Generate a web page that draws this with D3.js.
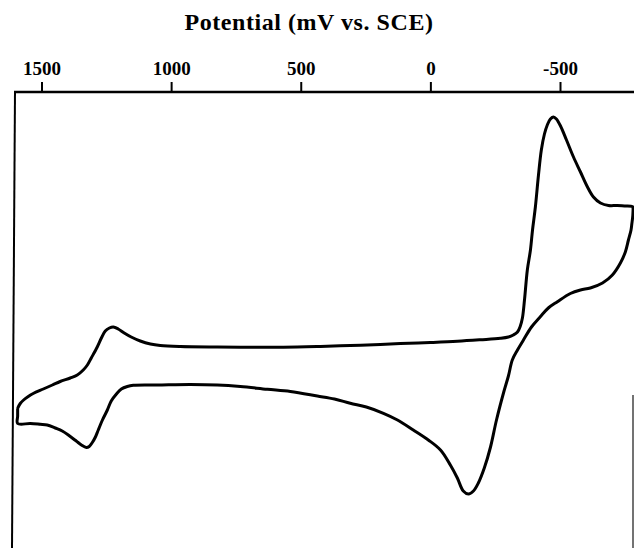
<!DOCTYPE html>
<html>
<head>
<meta charset="utf-8">
<script src="https://cdn.jsdelivr.net/npm/d3@7"></script>
<style>
  body { margin: 0; background: #fff; }
  svg { display: block; }
</style>
</head>
<body>
<svg width="634" height="548"></svg>
<script>
var svg = d3.select('svg');

// cyclic voltammogram (potential in mV vs SCE, current in arbitrary units)
// forward: upper branch left to right, then back along the lower branch
var potential = [1592, 1582, 1569, 1551, 1532, 1493, 1458, 1428, 1389, 1362,
    1339, 1323, 1308, 1285, 1269, 1254, 1238, 1223, 1204, 1181,
    1154, 1119, 1080, 1042, 965, 822, 694, 567, 424, 309,
    193, 116, 0, -104, -193, -270, -301, -320, -336, -347,
    -355, -363, -374, -386, -394, -405, -417, -428, -440, -451,
    -463, -475, -486, -502, -525, -552, -579, -606, -629, -656,
    -687, -721, -749, -779,
    -781, -781, -777, -774, -764, -752, -733, -702, -664, -617,
    -579, -540, -490, -455, -424, -390, -359, -336, -316, -301,
    -282, -255, -232, -208, -185, -166, -147, -127, -104, -77,
    -39, 8, 66, 127, 181, 247, 309, 370, 436, 540,
    629, 733, 822, 926, 1053, 1146, 1169, 1192, 1211, 1231,
    1246, 1265, 1281, 1292, 1304, 1316, 1327, 1346, 1366, 1389,
    1420, 1447, 1478, 1505, 1543, 1592, 1592, 1592];

var current = [-4.23, -3.75, -3.4, -3.05, -2.75, -2.3, -1.9, -1.55, -1.2, -0.9,
    -0.4, 0.1, 0.8, 1.9, 2.8, 3.5, 3.8, 3.9, 3.7, 3.3,
    2.9, 2.5, 2.2, 2.05, 1.95, 1.9, 1.88, 1.88, 1.96, 2.05,
    2.16, 2.24, 2.35, 2.47, 2.62, 2.77, 2.9, 3.1, 3.4, 4.0,
    4.8, 6.6, 9.6, 11.6, 13.6, 15.9, 19.1, 21.6, 23.2, 24.1,
    24.7, 24.9, 24.7, 24.0, 22.6, 20.9, 19.4, 17.9, 16.9, 16.3,
    16.05, 16.05, 16.0, 15.95,
    15.9, 15.1, 14.2, 13.6, 12.6, 11.4, 10.3, 9.1, 8.3, 7.8,
    7.6, 7.25, 6.43, 5.8, 4.93, 3.9, 2.6, 1.6, 0.6, -1.0,
    -2.7, -5.4, -8.1, -10.2, -11.7, -12.5, -12.8, -12.5, -11.2, -9.9,
    -8.4, -7.4, -6.4, -5.4, -4.73, -4.1, -3.73, -3.3, -3.0, -2.55,
    -2.33, -2.05, -1.9, -1.85, -1.9, -1.93, -2.05, -2.3, -2.8, -3.5,
    -4.4, -5.4, -6.4, -7.1, -7.65, -8.05, -8.15, -7.9, -7.5, -7.05,
    -6.5, -6.2, -5.9, -5.83, -5.75, -5.75, -5.0, -4.23];

var tickValues = [1500, 1000, 500, 0, -500];
var title = 'Potential (mV vs. SCE)';

var width = 634, height = 548;
var frameTop = 92;

// potential axis runs from positive (left) to negative (right)
var x = d3.scaleLinear().domain([1500, -500]).range([41.5, 560]);
var y = d3.scaleLinear().domain([27.4, -18.2]).range([frameTop, height]);

var points = potential.map(function(d, i){
    return {v: d, c: current[i]};
});

// title
svg.append('text')
    .attr('x', 309)
    .attr('y', 30)
    .attr('text-anchor', 'middle')
    .attr('font-family', '"Liberation Serif", "DejaVu Serif", serif')
    .attr('font-weight', 'bold')
    .attr('font-size', 24)
    .attr('letter-spacing', 0.55)
    .attr('fill', '#000')
    .text(title);

// frame: top line, left side and the visible bit of the right side
svg.append('line')
    .attr('x1', 14).attr('y1', frameTop)
    .attr('x2', width).attr('y2', frameTop)
    .attr('stroke', '#000').attr('stroke-width', 2.5);

svg.append('line')
    .attr('x1', 15).attr('y1', frameTop - 1)
    .attr('x2', 12).attr('y2', height)
    .attr('stroke', '#000').attr('stroke-width', 2);

svg.append('line')
    .attr('x1', 633).attr('y1', 395)
    .attr('x2', 633).attr('y2', height)
    .attr('stroke', '#444').attr('stroke-width', 1.5);

// top axis
var axis = d3.axisTop(x)
    .tickValues(tickValues)
    .tickSize(10)
    .tickPadding(7)
    .tickFormat(function(d){ return String(d); });

var g = svg.append('g')
    .attr('transform', 'translate(0,' + frameTop + ')')
    .call(axis);

g.select('.domain').remove();
g.selectAll('.tick line')
    .attr('stroke', '#000')
    .attr('stroke-width', 2);
g.selectAll('.tick text')
    .attr('font-family', '"Liberation Serif", "DejaVu Serif", serif')
    .attr('font-weight', 'bold')
    .attr('font-size', 19)
    .attr('fill', '#000');

// the CV loop
var line = d3.line()
    .x(function(d){ return x(d.v); })
    .y(function(d){ return y(d.c); })
    .curve(d3.curveCatmullRom.alpha(0.5));

svg.append('path')
    .datum(points)
    .attr('d', line)
    .attr('fill', 'none')
    .attr('stroke', '#000')
    .attr('stroke-width', 3)
    .attr('stroke-linejoin', 'round');
</script>
</body>
</html>
